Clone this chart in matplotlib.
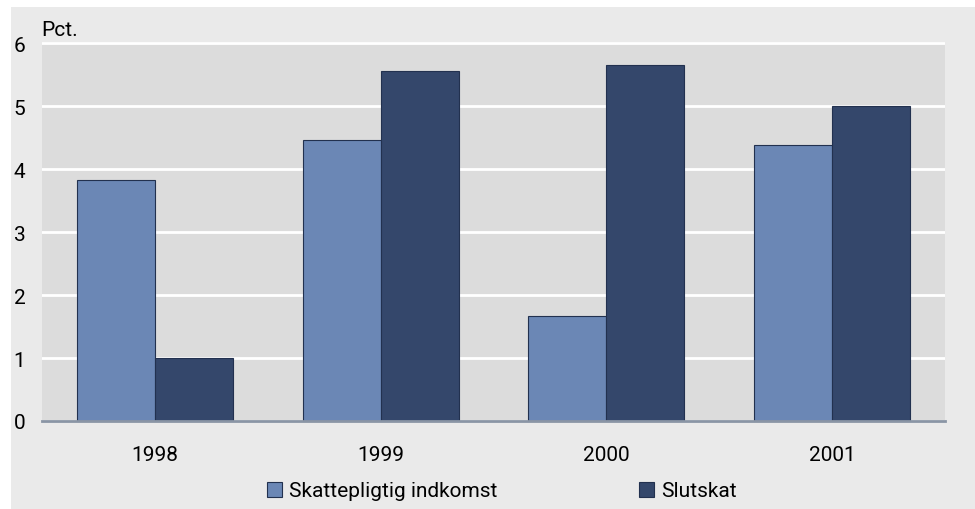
import matplotlib
matplotlib.use('Agg')
import matplotlib.pyplot as plt
from matplotlib.patches import Rectangle, Patch
import numpy as np

years = ['1998', '1999', '2000', '2001']
skattepligtig = [3.83, 4.46, 1.67, 4.39]
slutskat = [1.0, 5.56, 5.65, 5.0]
series_names = ['Skattepligtig indkomst', 'Slutskat']
yticks = [0, 1, 2, 3, 4, 5, 6]

plt.rcParams['font.family'] = ['Roboto', 'DejaVu Sans']

light = '#6b87b5'
dark = '#34476b'
edge = '#22314f'
fs = 15

fig = plt.figure(figsize=(9.75, 5.1), dpi=100)
fig.patch.set_facecolor('white')
# gray panel behind everything (white strip top and left)
fig.add_artist(Rectangle((11/975, 0), 1 - 11/975, 502/510, transform=fig.transFigure,
                         facecolor='#eaeaea', edgecolor='none', zorder=-10))

ax = fig.add_axes([42/975, 88/510, 903/975, 379/510])
ax.set_facecolor('#dcdcdc')

x = np.arange(len(years))
w = 0.345
ax.bar(x - w/2, skattepligtig, w, color=light, edgecolor=edge, linewidth=0.8, zorder=3)
ax.bar(x + w/2, slutskat, w, color=dark, edgecolor=edge, linewidth=0.8, zorder=3)

ax.set_xlim(-0.5, 3.5)
ax.set_ylim(0, 6.02)
ax.set_yticks(yticks)
ax.set_yticklabels([str(t) for t in yticks])
ax.set_xticks(x)
ax.set_xticklabels(years)
ax.tick_params(axis='both', length=0, labelsize=fs)
ax.tick_params(axis='y', pad=12)
ax.tick_params(axis='x', pad=17)

ax.grid(axis='y', color='white', linewidth=2, zorder=1)
ax.set_axisbelow(True)
for s in ['top', 'right', 'left']:
    ax.spines[s].set_visible(False)
ax.spines['bottom'].set_color('#8a95a5')
ax.spines['bottom'].set_linewidth(2)
ax.spines['bottom'].set_zorder(4)

fig.text(41/975, 1 - 36/510, 'Pct.', fontsize=fs, ha='left', va='baseline')

handles = [Patch(facecolor=light, edgecolor=edge, linewidth=0.8),
           Patch(facecolor=dark, edgecolor=edge, linewidth=0.8)]
fig.legend(handles, series_names, loc='center left', bbox_to_anchor=(267/975, 1 - 492/510),
           ncol=2, frameon=False, fontsize=fs, handlelength=0.7, handleheight=0.7,
           handletextpad=0.35, columnspacing=6.8, borderpad=0, borderaxespad=0)

fig.savefig('out.png', dpi=100, facecolor=fig.get_facecolor())
